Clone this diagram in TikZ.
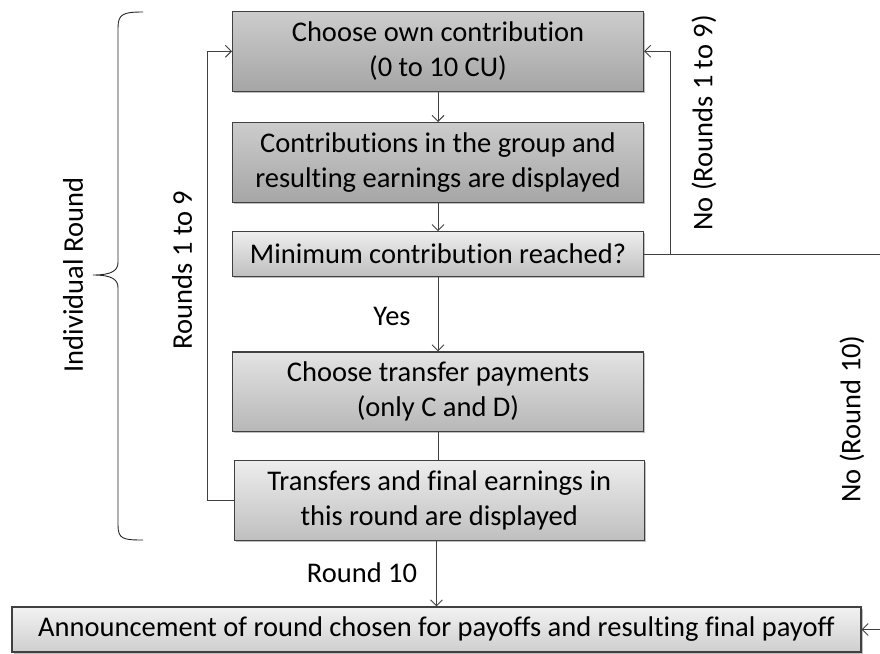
\documentclass[tikz,border=0pt]{standalone}
\usepackage{fontspec}
\setmainfont[Ligatures=CommonOff]{Carlito}
\usetikzlibrary{arrows.meta,shadows}
\begin{document}
\begin{tikzpicture}[x=1pt,y=-1pt,
  font=\fontsize{28.5pt}{35pt}\selectfont,
  every node/.style={text=black, inner sep=0pt},
  boxbase/.style={draw=black!75, line width=1.1pt, align=center,
    drop shadow={shadow xshift=1.5pt, shadow yshift=-1.5pt, opacity=0.25, fill=black}},
  darkbox/.style={boxbase, top color=black!20, bottom color=black!35},
  lightbox/.style={boxbase, top color=black!7, bottom color=black!25},
  midbox/.style={boxbase, top color=black!11, bottom color=black!28},
  finbox/.style={boxbase, top color=black!5, bottom color=black!19},
  conn/.style={draw=black!75, line width=0.9pt},
  arr/.style={conn, -{Straight Barb[length=6pt,width=12pt]}},
  lbl/.style={font=\fontsize{28.5pt}{35pt}\selectfont}
]
\useasboundingbox (0,0) rectangle (880,653);

\node[darkbox, minimum width=411pt, minimum height=79.5pt] (b1) at (438,51.3)
  {Choose own contribution\\(0 to 10 CU)};
\node[darkbox, minimum width=411pt, minimum height=79.5pt] (b2) at (438,162.3)
  {Contributions in the group and\\resulting earnings are displayed};
\node[lightbox, minimum width=411pt, minimum height=45pt] (b3) at (438,254.2)
  {Minimum contribution reached?};
\node[midbox, minimum width=411pt, minimum height=79.5pt] (b4) at (438,391.7)
  {Choose transfer payments\\(only C and D)};
\node[lightbox, minimum width=410pt, minimum height=79.5pt] (b5) at (439.2,500.3)
  {Transfers and final earnings in\\this round are displayed};
\node[finbox, minimum width=849pt, minimum height=45pt] (fin) at (436.5,629.5)
  {Announcement of round chosen for payoffs and resulting final payoff};

% main flow
\draw[arr] (b1.south) -- (b2.north);
\draw[arr] (b2.south) -- (b3.north);
\draw[arr] (b3.south) -- (b4.north);
\draw[conn] (b4.south) -- (b4.south |- b5.north);
\draw[arr] (b5.south -| fin.north) -- (fin.north);

% left loop
\coordinate (l1) at (207,500.3);
\draw[arr] (b5.west) -- (l1) |- (b1.west);

% right loop
\coordinate (r1) at (670,254.2);
\coordinate (e1) at (880,254.2);
\coordinate (e2) at (880,629.5);
\draw[conn] (b3.east) -- (e1);
\draw[arr] (r1) |- (b1.east);
\draw[arr] (e2) -- (fin.east);

% labels
\node[lbl] (yes) at (392,316) {Yes};
\node[lbl] (r10) at (362,573) {Round 10};
\node[lbl, rotate=90] (no19) at (704,123) {No (Rounds 1 to 9)};
\node[lbl, rotate=90] (no10) at (852,419) {No (Round 10)};
\node[lbl, rotate=90] (r19) at (182,270) {Rounds 1 to 9};
\node[lbl, rotate=90] (ind) at (73,275) {Individual Round};

% brace
\draw[black!85, line width=0.9pt]
  (143,12) .. controls (123,12) and (118,14) .. (118,28) -- (118,262)
  .. controls (118,270) and (113,275) .. (93,275)
  .. controls (113,275) and (118,280) .. (118,288) -- (118,525)
  .. controls (118,539) and (123,540) .. (143,540);
\end{tikzpicture}
\end{document}
